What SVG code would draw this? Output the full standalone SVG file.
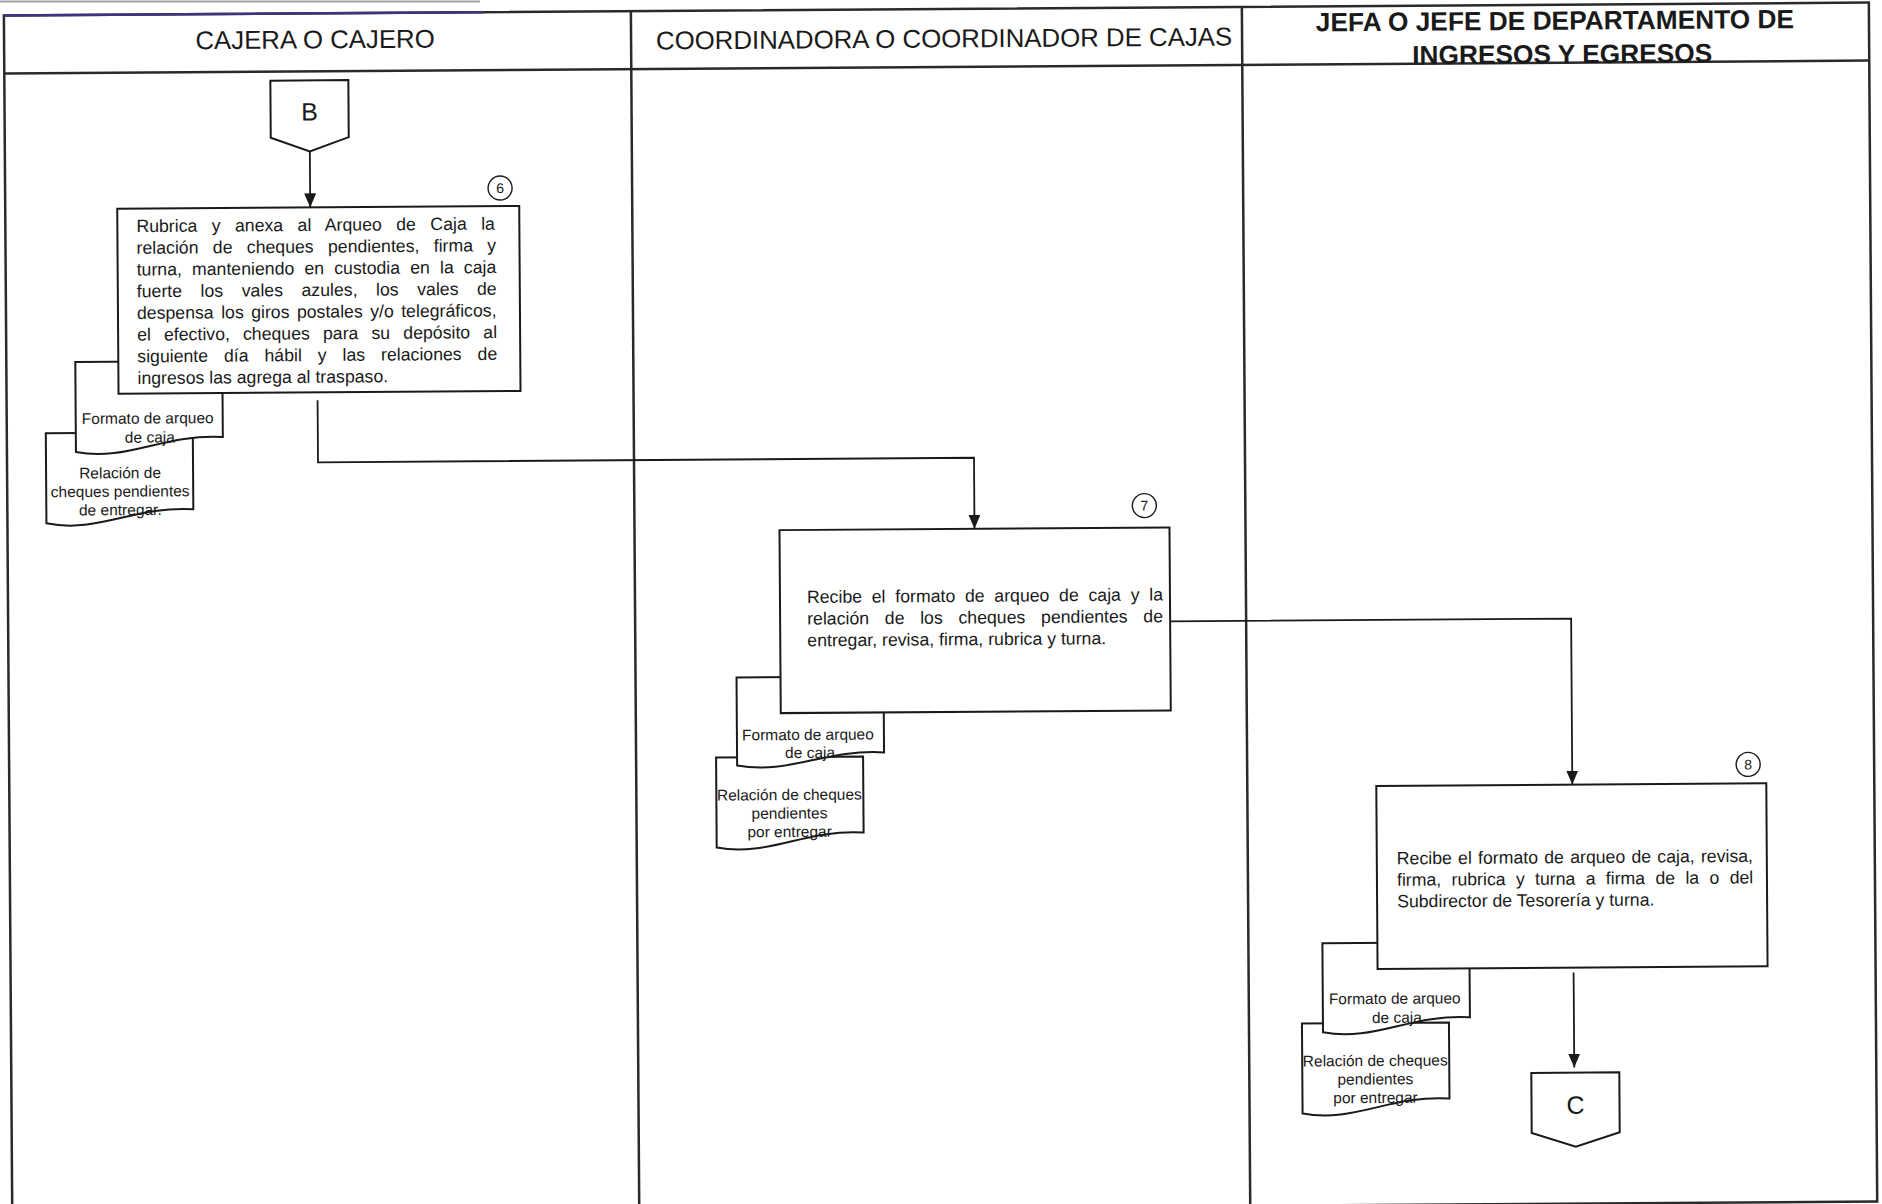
<svg xmlns="http://www.w3.org/2000/svg" width="1882" height="1204" viewBox="0 0 1882 1204">
<style>
  .frame{fill:none;stroke:#2a2a2a;stroke-width:2.5}
  .box{fill:#fff;stroke:#1a1a1a;stroke-width:2}
  .doc{fill:#fff;stroke:#1a1a1a;stroke-width:2}
  .conn{fill:none;stroke:#1a1a1a;stroke-width:1.8}
  .circ{fill:#fff;stroke:#1a1a1a;stroke-width:1.4}
  text{font-family:"Liberation Sans",Arial,sans-serif;fill:#1a1a1a}
  .hdr{font-size:25.8px;text-anchor:middle}
  .hdrb{font-size:26.3px;font-weight:bold;text-anchor:middle}
  .t{font-size:17.7px}
  .d{font-size:15.5px;text-anchor:middle}
  .num{font-size:14px;text-anchor:middle}
  .big{font-size:25px;text-anchor:middle}
</style>
<defs>
  <marker id="arr" markerWidth="14" markerHeight="12" refX="14" refY="6" orient="auto" markerUnits="userSpaceOnUse">
    <path d="M0,0 L14,6 L0,12 z" fill="#1a1a1a"/>
  </marker>
</defs>
<rect x="0" y="0" width="1882" height="1204" fill="#fff"/>
<line x1="0" y1="1.5" x2="480" y2="1.5" stroke="#a0a0a0" stroke-width="2"/>
<g transform="rotate(-0.4 941 602)">
  <g id="lanes">
    <rect class="frame" x="8" y="9" width="1865" height="1199"/>
    <line x1="8" y1="9" x2="488" y2="9" stroke="#3b3480" stroke-width="2.5"/>
    <line class="frame" x1="8" y1="67" x2="1873" y2="67"/>
    <line class="frame" x1="635" y1="9" x2="635" y2="1208"/>
    <line class="frame" x1="1246" y1="9" x2="1246" y2="1208"/>
    <text class="hdr" x="319" y="44">CAJERA O CAJERO</text>
    <text class="hdr" x="948" y="47.5">COORDINADORA O COORDINADOR DE CAJAS</text>
    <text class="hdrb" x="1559" y="34">JEFA O JEFE DE DEPARTAMENTO DE</text>
    <text class="hdrb" x="1566" y="67.5">INGRESOS Y EGRESOS</text>
  </g>

  <g id="connector-B">
    <polygon class="box" points="274,76 352,76 352,133 313,147 274,133"/>
    <text class="big" x="313" y="116">B</text>
  </g>

  <g id="doc6-relacion">
    <path class="doc" d="M47,427 H194 V504 C135,500 98,528 47,517 Z"/>
    <text class="d" x="121" y="472.5">Relación de</text>
    <text class="d" x="121" y="491">cheques pendientes</text>
    <text class="d" x="121" y="509.5">de entregar.</text>
  </g>
  <g id="doc6-formato">
    <path class="doc" d="M77,356 H224 V432 C165,428 128,456 77,446 Z"/>
    <text class="d" x="149" y="418">Formato de arqueo</text>
    <text class="d" x="151" y="437">de caja</text>
  </g>
  <g id="step6">
    <rect class="box" x="120" y="203" width="402" height="185"/>
    <text class="t" x="139" y="226.5" word-spacing="9.5">Rubrica y anexa al Arqueo de Caja la</text>
    <text class="t" x="139" y="248.2" word-spacing="9.4">relación de cheques pendientes, firma y</text>
    <text class="t" x="139" y="269.9" word-spacing="5.2">turna, manteniendo en custodia en la caja</text>
    <text class="t" x="139" y="291.6" word-spacing="13.6">fuerte los vales azules, los vales de</text>
    <text class="t" x="139" y="313.3" word-spacing="2.5">despensa los giros postales y/o telegráficos,</text>
    <text class="t" x="139" y="335" word-spacing="8.2">el efectivo, cheques para su depósito al</text>
    <text class="t" x="139" y="356.7" word-spacing="11">siguiente día hábil y las relaciones de</text>
    <text class="t" x="139" y="378.4">ingresos las agrega al traspaso.</text>
    <circle class="circ" cx="503" cy="185" r="12"/>
    <text class="num" x="503" y="190">6</text>
  </g>

  <g id="doc7-relacion">
    <path class="doc" d="M715,756 H862 V832 C803,828 766,856 715,846 Z"/>
    <text class="d" x="788" y="799">Relación de cheques</text>
    <text class="d" x="788" y="817.5">pendientes</text>
    <text class="d" x="788" y="836">por entregar</text>
  </g>
  <g id="doc7-formato">
    <path class="doc" d="M736,676 H883 V752 C824,748 787,774 736,764 Z"/>
    <text class="d" x="807" y="739">Formato de arqueo</text>
    <text class="d" x="809" y="757">de caja</text>
  </g>
  <g id="step7">
    <rect class="box" x="780" y="529" width="390" height="183"/>
    <text class="t" x="807" y="602" word-spacing="4.8">Recibe el formato de arqueo de caja y la</text>
    <text class="t" x="807" y="623.7" word-spacing="10.8">relación de los cheques pendientes de</text>
    <text class="t" x="807" y="645.4">entregar, revisa, firma, rubrica y turna.</text>
    <circle class="circ" cx="1145" cy="507" r="12"/>
    <text class="num" x="1145" y="512">7</text>
  </g>

  <g id="doc8-relacion">
    <path class="doc" d="M1299,1026 H1446 V1102 C1387,1098 1350,1126 1299,1116 Z"/>
    <text class="d" x="1372" y="1069">Relación de cheques</text>
    <text class="d" x="1372" y="1087.5">pendientes</text>
    <text class="d" x="1372" y="1106">por entregar</text>
  </g>
  <g id="doc8-formato">
    <path class="doc" d="M1320,946 H1467 V1021 C1408,1017 1371,1045 1320,1035 Z"/>
    <text class="d" x="1392" y="1007">Formato de arqueo</text>
    <text class="d" x="1394" y="1026">de caja</text>
  </g>
  <g id="step8">
    <rect class="box" x="1375" y="789" width="390" height="183"/>
    <text class="t" x="1395" y="867.5" word-spacing="1.3">Recibe el formato de arqueo de caja, revisa,</text>
    <text class="t" x="1395" y="889" word-spacing="5.4">firma, rubrica y turna a firma de la o del</text>
    <text class="t" x="1395" y="910.5">Subdirector de Tesorería y turna.</text>
    <circle class="circ" cx="1747" cy="770" r="12"/>
    <text class="num" x="1747" y="775">8</text>
  </g>

  <g id="connector-C">
    <polygon class="box" points="1528,1077 1616,1077 1616,1137 1572,1151 1528,1137"/>
    <text class="big" x="1572" y="1118">C</text>
  </g>

  <g id="connectors">
    <path class="conn" d="M313,147 V203" marker-end="url(#arr)"/>
    <path class="conn" d="M319,396 V458 H975 V529" marker-end="url(#arr)"/>
    <path class="conn" d="M1170,623 H1571 V789" marker-end="url(#arr)"/>
    <path class="conn" d="M1571,977 V1072" marker-end="url(#arr)"/>
  </g>
</g>
</svg>
